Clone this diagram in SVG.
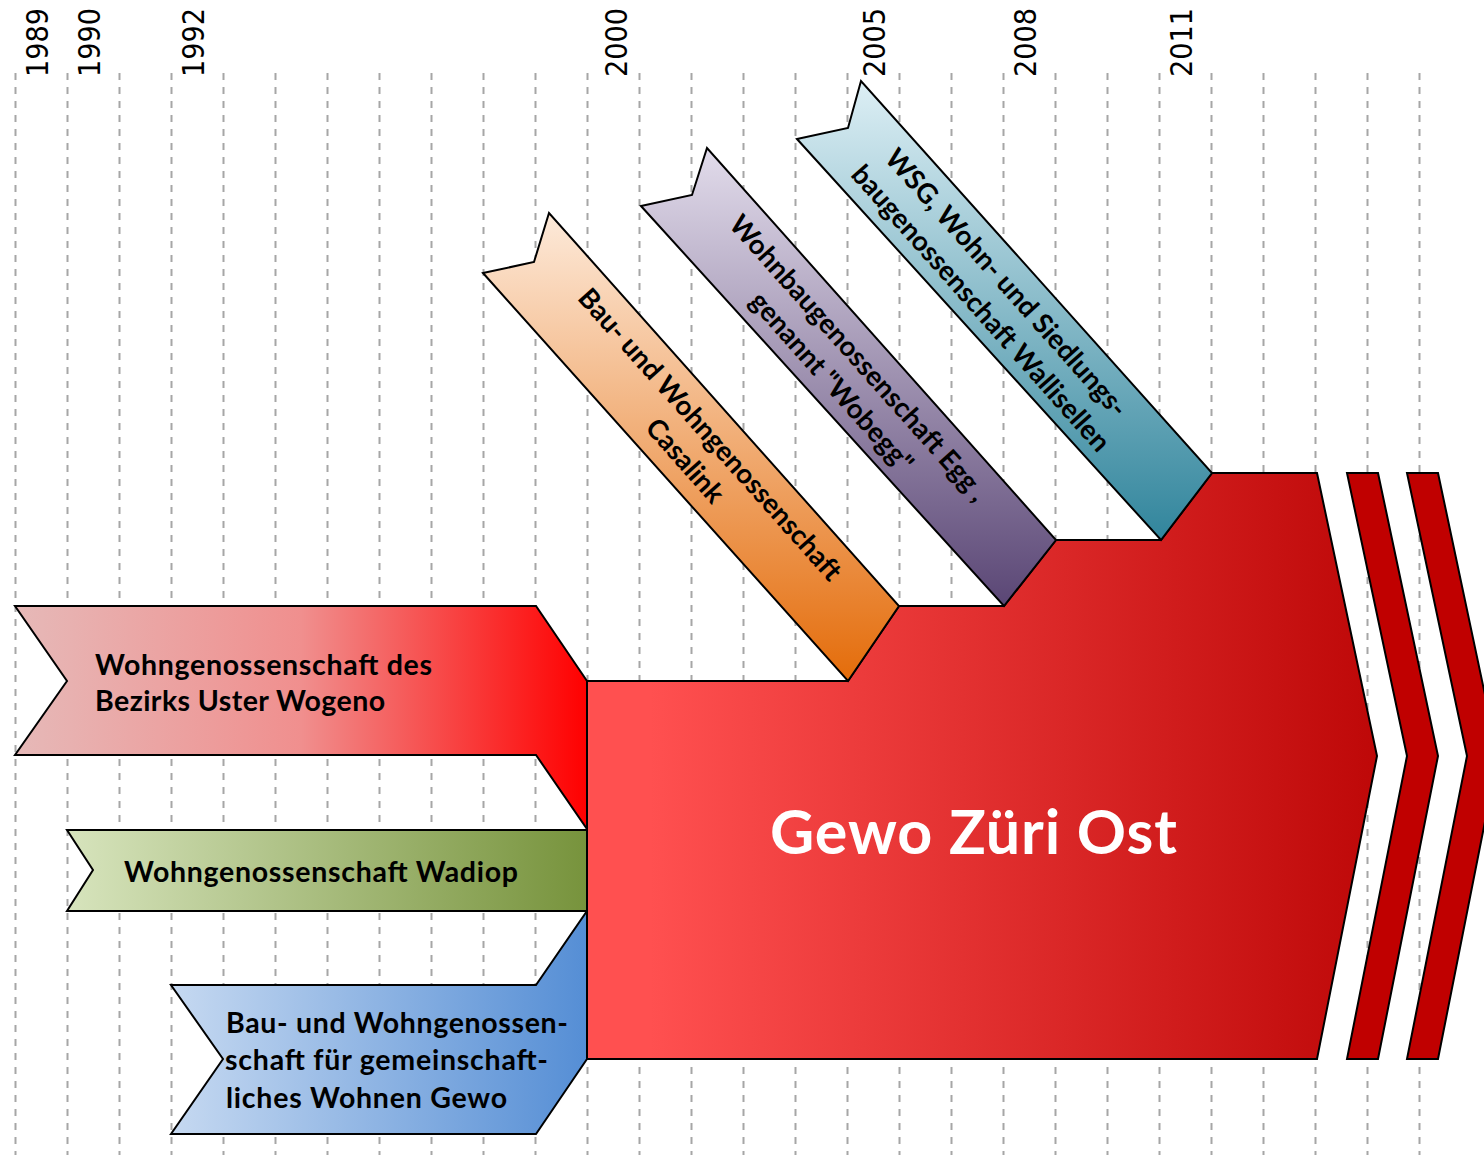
<svg xmlns="http://www.w3.org/2000/svg" width="1484" height="1155" viewBox="0 0 1484 1155">
  <defs>
    <linearGradient id="gMain" x1="0" y1="0" x2="1" y2="0">
      <stop offset="0.08" stop-color="#FF5050"/>
      <stop offset="1" stop-color="#BE0808"/>
    </linearGradient>
    <linearGradient id="gWogeno" x1="0" y1="0" x2="1" y2="0">
      <stop offset="0" stop-color="#E6B9B8"/>
      <stop offset="0.5" stop-color="#F08F8E"/>
      <stop offset="1" stop-color="#FF0000"/>
    </linearGradient>
    <linearGradient id="gWadiop" x1="0" y1="0" x2="1" y2="0">
      <stop offset="0" stop-color="#D7E4BD"/>
      <stop offset="1" stop-color="#77933C"/>
    </linearGradient>
    <linearGradient id="gGewo" x1="0" y1="0" x2="1" y2="0">
      <stop offset="0" stop-color="#C6D9F1"/>
      <stop offset="1" stop-color="#558ED5"/>
    </linearGradient>
    <linearGradient id="gCasalink" x1="0" y1="0" x2="0" y2="1">
      <stop offset="0" stop-color="#FDEADA"/>
      <stop offset="1" stop-color="#E46C0A"/>
    </linearGradient>
    <linearGradient id="gWobegg" x1="0" y1="0" x2="0" y2="1">
      <stop offset="0" stop-color="#E2DCEB"/>
      <stop offset="1" stop-color="#5A4675"/>
    </linearGradient>
    <linearGradient id="gWsg" x1="0" y1="0" x2="0" y2="1">
      <stop offset="0" stop-color="#DDEFF5"/>
      <stop offset="1" stop-color="#31859C"/>
    </linearGradient>
  </defs>
  <style>
    .grid line { stroke: #A6A6A6; stroke-width: 2; stroke-dasharray: 7 7; }
    .year { font-family: "DejaVu Sans", Verdana, sans-serif; font-size: 29.5px; fill: #000; }
    .shape { stroke: #000; stroke-width: 2; stroke-linejoin: miter; }
    .lbl { font-family: Lato, "Open Sans", sans-serif; font-weight: 700; font-size: 28.5px; fill: #000; }
    .rot { text-anchor: middle; font-size: 27.5px; }
    .big { font-family: Lato, "Open Sans", sans-serif; font-weight: 700; font-size: 61px; fill: #FFFFFF; }
  </style>

  <rect width="1484" height="1155" fill="#FFFFFF"/>

  <!-- year grid -->
  <g id="grid" class="grid">
    <line x1="15.5" y1="73" x2="15.5" y2="1155"/>
    <line x1="67.5" y1="73" x2="67.5" y2="1155"/>
    <line x1="119.5" y1="73" x2="119.5" y2="1155"/>
    <line x1="171.5" y1="73" x2="171.5" y2="1155"/>
    <line x1="223.5" y1="73" x2="223.5" y2="1155"/>
    <line x1="275.5" y1="73" x2="275.5" y2="1155"/>
    <line x1="327.5" y1="73" x2="327.5" y2="1155"/>
    <line x1="379.5" y1="73" x2="379.5" y2="1155"/>
    <line x1="431.5" y1="73" x2="431.5" y2="1155"/>
    <line x1="483.5" y1="73" x2="483.5" y2="1155"/>
    <line x1="535.5" y1="73" x2="535.5" y2="1155"/>
    <line x1="587.5" y1="73" x2="587.5" y2="1155"/>
    <line x1="639.5" y1="73" x2="639.5" y2="1155"/>
    <line x1="691.5" y1="73" x2="691.5" y2="1155"/>
    <line x1="743.5" y1="73" x2="743.5" y2="1155"/>
    <line x1="795.5" y1="73" x2="795.5" y2="1155"/>
    <line x1="847.5" y1="73" x2="847.5" y2="1155"/>
    <line x1="899.5" y1="73" x2="899.5" y2="1155"/>
    <line x1="951.5" y1="73" x2="951.5" y2="1155"/>
    <line x1="1003.5" y1="73" x2="1003.5" y2="1155"/>
    <line x1="1055.5" y1="73" x2="1055.5" y2="1155"/>
    <line x1="1107.5" y1="73" x2="1107.5" y2="1155"/>
    <line x1="1159.5" y1="73" x2="1159.5" y2="1155"/>
    <line x1="1211.5" y1="73" x2="1211.5" y2="1155"/>
    <line x1="1263.5" y1="73" x2="1263.5" y2="1155"/>
    <line x1="1315.5" y1="73" x2="1315.5" y2="1155"/>
    <line x1="1367.5" y1="73" x2="1367.5" y2="1155"/>
    <line x1="1419.5" y1="73" x2="1419.5" y2="1155"/>
  </g>

  <!-- year labels -->
  <g id="years" class="year">
    <text transform="translate(47.5,77) rotate(-90)" textLength="69" lengthAdjust="spacingAndGlyphs">1989</text>
    <text transform="translate(99.5,77) rotate(-90)" textLength="69" lengthAdjust="spacingAndGlyphs">1990</text>
    <text transform="translate(204,77) rotate(-90)" textLength="69" lengthAdjust="spacingAndGlyphs">1992</text>
    <text transform="translate(627,77) rotate(-90)" textLength="69" lengthAdjust="spacingAndGlyphs">2000</text>
    <text transform="translate(885,77) rotate(-90)" textLength="69" lengthAdjust="spacingAndGlyphs">2005</text>
    <text transform="translate(1036,77) rotate(-90)" textLength="69" lengthAdjust="spacingAndGlyphs">2008</text>
    <text transform="translate(1192,77) rotate(-90)" textLength="69" lengthAdjust="spacingAndGlyphs">2011</text>
  </g>

  <!-- merged cooperative -->
  <g id="gewo-zueri-ost">
    <polygon class="shape" fill="url(#gMain)" points="587,681 848,681 899,606 1004,606 1056,540 1161,540 1212,473 1317,473 1377,756 1317,1059 587,1059"/>
    <text class="big" x="770" y="854" textLength="407" lengthAdjust="spacing">Gewo Züri Ost</text>
  </g>
  <g id="continuation">
    <polygon class="shape" fill="#C00000" points="1347,473 1378,473 1438,756 1378,1059 1347,1059 1407,756"/>
    <polygon class="shape" fill="#C00000" points="1407,473 1438,473 1498,756 1438,1059 1407,1059 1467,756"/>
  </g>

  <!-- founding cooperatives, 1989-1992 -->
  <g id="wogeno">
    <polygon class="shape" fill="url(#gWogeno)" points="15,606 536,606 587,681 587,829 536,755 15,755 67,681"/>
    <text class="lbl" x="95" y="675" textLength="337" lengthAdjust="spacing">Wohngenossenschaft des</text>
    <text class="lbl" x="95" y="711" textLength="290" lengthAdjust="spacing">Bezirks Uster Wogeno</text>
  </g>
  <g id="wadiop">
    <polygon class="shape" fill="url(#gWadiop)" points="67,830 587,830 587,911 67,911 93,870"/>
    <text class="lbl" x="124" y="882" textLength="394" lengthAdjust="spacing">Wohngenossenschaft Wadiop</text>
  </g>
  <g id="gewo">
    <polygon class="shape" fill="url(#gGewo)" points="171,985 536,985 587,911 587,1059 536,1134 171,1134 223,1059"/>
    <text class="lbl" x="226" y="1033" textLength="342" lengthAdjust="spacing">Bau- und Wohngenossen-</text>
    <text class="lbl" x="225" y="1070" textLength="323" lengthAdjust="spacing">schaft für gemeinschaft-</text>
    <text class="lbl" x="226" y="1108" textLength="281" lengthAdjust="spacing">liches Wohnen Gewo</text>
  </g>

  <!-- later mergers, 2005-2011 -->
  <g id="casalink">
    <polygon class="shape" fill="url(#gCasalink)" points="483,273 534,262 549,213 899,606 848,681"/>
    <g transform="translate(516,243) rotate(48.3)">
      <text class="lbl rot" x="272" y="-8">Bau- und Wohngenossenschaft</text>
      <text class="lbl rot" x="275" y="28">Casalink</text>
    </g>
  </g>
  <g id="wobegg">
    <polygon class="shape" fill="url(#gWobegg)" points="641,206 692,195 707,148 1056,540 1004,606"/>
    <g transform="translate(674,177) rotate(48.3)">
      <text class="lbl rot" x="258" y="-8">Wohnbaugenossenschaft Egg ,</text>
      <text class="lbl rot" x="258" y="28">genannt "Wobegg"</text>
    </g>
  </g>
  <g id="wsg">
    <polygon class="shape" fill="url(#gWsg)" points="797,139 848,128 861,81 1212,473 1161,540"/>
    <g transform="translate(829,110) rotate(48.3)">
      <text class="lbl rot" x="247" y="-8">WSG, Wohn- und Siedlungs-</text>
      <text class="lbl rot" x="249" y="28">baugenossenschaft Wallisellen</text>
    </g>
  </g>
</svg>
